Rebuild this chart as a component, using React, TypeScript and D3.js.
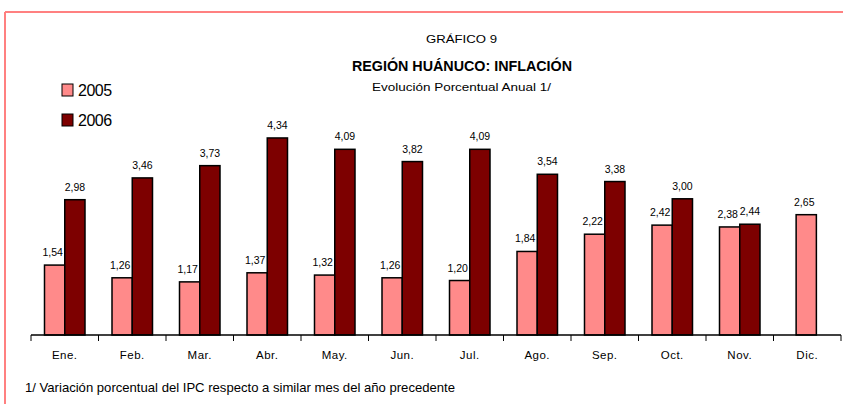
import React from "react";
import * as d3 from "d3";

const months = ["Ene.", "Feb.", "Mar.", "Abr.", "May.", "Jun.", "Jul.", "Ago.", "Sep.", "Oct.", "Nov.", "Dic."];
const v2005 = [1.54, 1.26, 1.17, 1.37, 1.32, 1.26, 1.2, 1.84, 2.22, 2.42, 2.38, 2.65];
const v2006: (number | null)[] = [2.98, 3.46, 3.73, 4.34, 4.09, 3.82, 4.09, 3.54, 3.38, 3.0, 2.44, null];
const seriesNames = ["2005", "2006"];
const colors = ["#ff8a8a", "#7d0000"];

const W = 843, H = 404;
const font = "'Liberation Sans', Arial, sans-serif";

export default function App() {
  const x = d3.scaleBand<string>().domain(months).range([31, 841]).padding(0);
  const y = d3.scaleLinear().domain([0, 5]).range([335, 108]);
  const step = x.step();
  const barW = step * 0.3;
  const fmt = (v: number) => v.toFixed(2).replace(".", ",");
  const series = [v2005, v2006];

  return (
    <svg width={W} height={H} style={{ position: "absolute", left: 0, top: 0, background: "#fff" }} fontFamily={font}>
      <rect x={0} y={0} width={W} height={H} fill="#fff" />
      <line x1={5} y1={12} x2={W} y2={12} stroke="#ff8080" strokeWidth={2} />
      <line x1={5} y1={12} x2={5} y2={H} stroke="#ff8080" strokeWidth={2} />

      <text x={426} y={43} fontSize={11.5} fill="#000" textLength={71} lengthAdjust="spacingAndGlyphs">GRÁFICO 9</text>
      <text x={352} y={71} fontSize={14.5} fontWeight="bold" fill="#000" textLength={220} lengthAdjust="spacingAndGlyphs">REGIÓN HUÁNUCO: INFLACIÓN</text>
      <text x={372} y={91} fontSize={11.5} fill="#000" textLength={179} lengthAdjust="spacingAndGlyphs">Evolución Porcentual Anual 1/</text>

      {seriesNames.map((s, i) => (
        <g key={s}>
          <rect x={62} y={84 + i * 30} width={11} height={12} fill={colors[i]} stroke="#000" strokeWidth={1} />
          <text x={78} y={96 + i * 30} fontSize={16} fill="#000" letterSpacing={-0.5}>{s}</text>
        </g>
      ))}

      {months.map((m, mi) => {
        const cx = (x(m) as number) + step / 2;
        return (
          <g key={m}>
            {series.map((arr, si) => {
              const v = arr[mi];
              if (v == null) return null;
              let bx = cx - barW + si * barW;
              if (m === "Dic.") bx = cx - barW / 2 - 1;
              const top = y(v);
              return (
                <g key={si}>
                  <rect x={bx} y={top} width={barW} height={y(0) - top} fill={colors[si]} stroke="#000" strokeWidth={1.5} />
                  <text x={bx + barW / 2 - (si === 0 ? 2 : 0)} y={top - 9} textAnchor="middle" fontSize={10.5} fill="#000">{fmt(v)}</text>
                </g>
              );
            })}
          </g>
        );
      })}

      <line x1={31} y1={335} x2={841} y2={335} stroke="#000" strokeWidth={1.5} />
      {d3.range(months.length + 1).map((i) => (
        <line key={i} x1={31 + i * step} y1={335} x2={31 + i * step} y2={341} stroke="#000" strokeWidth={1} />
      ))}
      {months.map((m) => (
        <text key={m} x={(x(m) as number) + step / 2} y={359} textAnchor="middle" fontSize={11.5} letterSpacing={0.5} fill="#000">{m}</text>
      ))}

      <text x={25} y={392} fontSize={13} fill="#000" textLength={430} lengthAdjust="spacingAndGlyphs">1/ Variación porcentual del IPC respecto a similar mes del año precedente</text>
    </svg>
  );
}
